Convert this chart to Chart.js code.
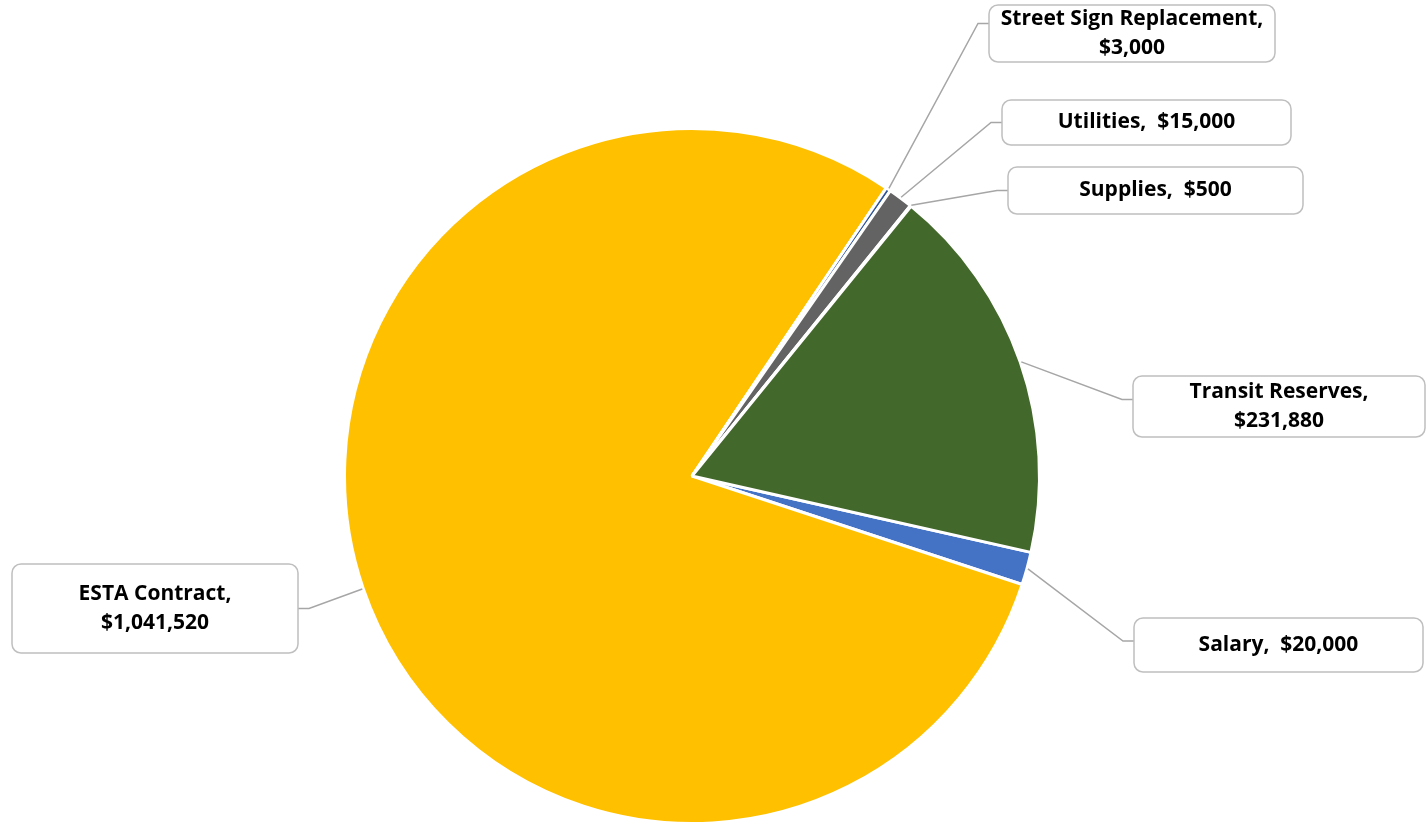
<!DOCTYPE html>
<html>
<head>
<meta charset="utf-8">
<script src="https://cdn.jsdelivr.net/npm/chart.js@4/dist/chart.umd.min.js"></script>
<style>
  html, body { margin: 0; padding: 0; background: #fff; }
  #wrap { width: 1427px; height: 826px; position: relative; }
</style>
</head>
<body>
<div id="wrap"><canvas id="pie" width="1427" height="826"></canvas></div>
<script>
// ── Data ──────────────────────────────────────────────────────────────────────
const categories  = ["Salary", "ESTA Contract", "Street Sign Replacement", "Utilities", "Supplies", "Transit Reserves"];
const amounts     = [20000, 1041520, 3000, 15000, 500, 231880];
const sliceColors = ["#4472C4", "#FFC000", "#2F5597", "#636363", "#7F7F7F", "#43682B"];

// label text split into lines
const labelLines = [
  ["Salary,  $20,000"],
  ["ESTA Contract,", "$1,041,520"],
  ["Street Sign Replacement,", "$3,000"],
  ["Utilities,  $15,000"],
  ["Supplies,  $500"],
  ["Transit Reserves,", "$231,880"],
];

// ── Label box layout (x, y, w, h) ─────────────────────────────────────────────
const labelBoxes = [
  [1134, 618, 289, 54],
  [12, 564, 286, 89],
  [989, 5, 286, 57],
  [1002, 100, 289, 45],
  [1008, 167, 295, 47],
  [1133, 376, 292, 61],
];
// vertical offset of the leader line's end on the box edge
const leaderDy = [-4, 0, -10, 0, 0, -7];

const FONT = "bold 21px 'Open Sans', Lato, sans-serif";
const LINE_H = 29;

function roundRect(ctx, x, y, w, h, r) {
  ctx.beginPath();
  ctx.moveTo(x + r, y);
  ctx.arcTo(x + w, y, x + w, y + h, r);
  ctx.arcTo(x + w, y + h, x, y + h, r);
  ctx.arcTo(x, y + h, x, y, r);
  ctx.arcTo(x, y, x + w, y, r);
  ctx.closePath();
}

// Draws leader lines and callout boxes, anchored at each slice's outer mid-point
const calloutPlugin = {
  id: "callouts",
  afterDatasetsDraw(chart) {
    const ctx = chart.ctx;
    const arcs = chart.getDatasetMeta(0).data;
    ctx.save();
    arcs.forEach((arc, i) => {
      const [bx, by, bw, bh] = labelBoxes[i];
      const mid = (arc.startAngle + arc.endAngle) / 2;
      const ax = arc.x + Math.cos(mid) * (arc.outerRadius + 1);
      const ay = arc.y + Math.sin(mid) * (arc.outerRadius + 1);
      const leftSide = bx + bw / 2 < arc.x;
      const ex = leftSide ? bx + bw : bx;
      const ey = by + bh / 2 + leaderDy[i];
      const kx = leftSide ? ex + 11 : ex - 11;

      ctx.strokeStyle = "#A6A6A6";
      ctx.lineWidth = 1.5;
      ctx.beginPath();
      ctx.moveTo(ax, ay);
      ctx.lineTo(kx, ey);
      ctx.lineTo(ex, ey);
      ctx.stroke();

      roundRect(ctx, bx, by, bw, bh, 9);
      ctx.fillStyle = "#fff";
      ctx.fill();
      ctx.strokeStyle = "#BFBFBF";
      ctx.lineWidth = 1.5;
      ctx.stroke();

      const lines = labelLines[i];
      ctx.fillStyle = "#000";
      ctx.font = FONT;
      ctx.textAlign = "center";
      ctx.textBaseline = "middle";
      const cy = by + bh / 2 - (lines.length - 1) * LINE_H / 2;
      lines.forEach((t, k) => ctx.fillText(t, bx + bw / 2, cy + k * LINE_H));
    });
    ctx.restore();
  },
};

new Chart(document.getElementById("pie").getContext("2d"), {
  type: "pie",
  data: {
    labels: categories,
    datasets: [{
      data: amounts,
      backgroundColor: sliceColors,
      borderColor: "#fff",
      borderWidth: 3,
    }],
  },
  options: {
    responsive: false,
    animation: false,
    rotation: 102.7,
    layout: { padding: { left: 343, right: 386, top: 127, bottom: 1 } },
    plugins: {
      legend: { display: false },
      tooltip: { enabled: false },
    },
  },
  plugins: [calloutPlugin],
});
</script>
</body>
</html>
